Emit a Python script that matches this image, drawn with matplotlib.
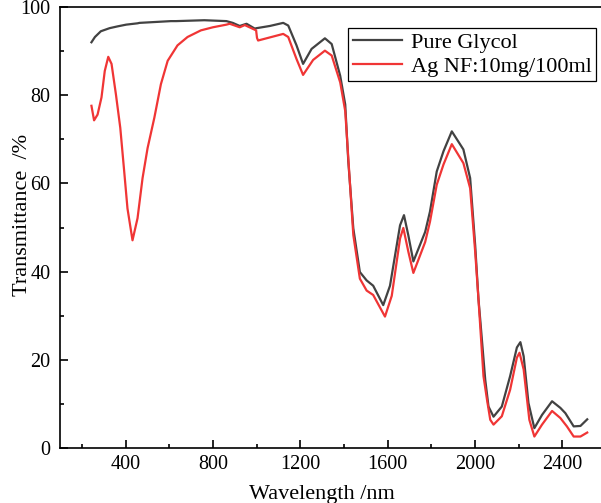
import matplotlib.pyplot as plt  # plotting
import numpy as np

#  ---------------------  Data  -------------------------------------------------
glycol_nm = [244, 260, 287, 327, 363, 403, 455, 464, 608, 632, 761, 862, 891,
             923, 954, 992, 1000, 1061, 1122, 1145, 1183, 1213, 1252, 1313,
             1344, 1383, 1406, 1420, 1443, 1473, 1504, 1534, 1580, 1611, 1657,
             1675, 1695, 1718, 1772, 1794, 1825, 1856, 1894, 1947, 1978, 2001,
             2016, 2024, 2047, 2062, 2085, 2123, 2161, 2192, 2208, 2223, 2245,
             2272, 2307, 2353, 2391, 2414, 2452, 2483, 2514]
glycol_T = [92.0, 93.2, 94.5, 95.2, 95.6, 96.0, 96.3, 96.4, 96.8, 96.8, 97.0,
            96.8, 96.4, 95.7, 96.2, 95.1, 95.2, 95.7, 96.4, 95.8, 91.3, 87.1,
            90.5, 92.9, 91.6, 84.4, 77.9, 65.0, 49.8, 39.9, 38.0, 36.8, 32.4,
            36.8, 50.5, 52.8, 48.2, 42.3, 49.0, 53.6, 62.7, 67.3, 71.8, 67.7,
            61.2, 46.0, 33.8, 29.2, 15.5, 9.4, 7.1, 9.4, 16.3, 22.8, 24.0, 20.8,
            10.2, 4.5, 7.5, 10.6, 9.1, 7.9, 4.9, 5.0, 6.5]

agnf_nm = [244, 256, 272, 290, 305, 321, 336, 356, 376, 394, 409, 432, 455,
           478, 501, 532, 562, 593, 638, 684, 745, 800, 862, 877, 923, 946,
           998, 1002, 1007, 1122, 1145, 1183, 1213, 1259, 1313, 1344, 1383,
           1406, 1443, 1473, 1504, 1534, 1588, 1619, 1657, 1672, 1695, 1718,
           1772, 1794, 1825, 1856, 1894, 1947, 1978, 2001, 2016, 2039, 2055,
           2070, 2085, 2123, 2161, 2192, 2204, 2223, 2249, 2272, 2307, 2353,
           2391, 2421, 2452, 2483, 2514]
agnf_T = [77.6, 74.3, 75.6, 79.5, 85.5, 88.7, 87.1, 80.2, 72.6, 62.7, 54.3,
          47.1, 52.1, 61.2, 68.0, 74.9, 82.5, 87.8, 91.3, 93.2, 94.7, 95.4,
          96.0, 96.2, 95.4, 95.9, 94.7, 93.0, 92.4, 93.9, 93.2, 88.2, 84.6,
          88.0, 90.1, 89.0, 82.9, 76.4, 48.3, 38.4, 35.7, 34.7, 29.8, 34.5,
          47.5, 49.9, 44.5, 39.7, 46.7, 51.3, 59.7, 64.3, 68.9, 64.6, 58.9,
          44.5, 33.8, 16.3, 11.0, 6.4, 5.3, 7.2, 13.2, 20.5, 21.6, 17.8, 6.4,
          2.6, 5.3, 8.4, 6.8, 4.9, 2.6, 2.6, 3.5]

series_names = ['Pure Glycol', 'Ag NF:10mg/100ml']
x_ticks = [400, 800, 1200, 1600, 2000, 2400]
y_ticks = [0, 20, 40, 60, 80, 100]

#  ---------------------  Plot  --------------------------
plt.rcParams['font.family'] = ['Liberation Serif', 'DejaVu Serif']

W, H = 601, 503
fig = plt.figure(figsize=(W / 100, H / 100), dpi=100)

# axes box in pixels: left 60, right 606 (just off the picture), top 7, bottom 448
ax = fig.add_axes([60 / W, (H - 448) / H, 546 / W, 441 / H])

ax.plot(glycol_nm, glycol_T, color='#424242', lw=1.6, label=series_names[0])
ax.plot(agnf_nm, agnf_T, color='#f03535', lw=1.6, label=series_names[1])

ax.set_xlim(100, 2600)
ax.set_ylim(0, 100)
ax.set_xticks(x_ticks)
ax.set_yticks(y_ticks)
ax.set_xticks(np.arange(200, 2600, 400), minor=True)
ax.set_yticks(np.arange(10, 100, 20), minor=True)

ax.tick_params(which='both', direction='in', top=False, right=False,
               width=1.2, labelsize=14.5)
ax.tick_params(which='major', length=6)
ax.tick_params(which='minor', length=3)
ax.tick_params(axis='x', pad=5)
ax.tick_params(axis='y', pad=7)
for s in ax.spines.values():
    s.set_linewidth(1.2)

ax.set_xlabel('Wavelength /nm', fontsize=16)
ax.set_ylabel('Transmittance  /%', fontsize=16)
ax.xaxis.set_label_coords(0.48, -0.083)
ax.yaxis.set_label_coords(-0.052, 0.528)

leg = ax.legend(loc='upper right', bbox_to_anchor=(596 / W, 1 - 28 / H),
                bbox_transform=fig.transFigure, borderaxespad=0,
                fontsize=16, frameon=True, fancybox=False, framealpha=1,
                edgecolor='black', handlelength=2.2, handletextpad=0.4,
                labelspacing=0.15, borderpad=0.2)
leg.get_frame().set_linewidth(0.9)

fig.savefig('out.png', dpi=100)
